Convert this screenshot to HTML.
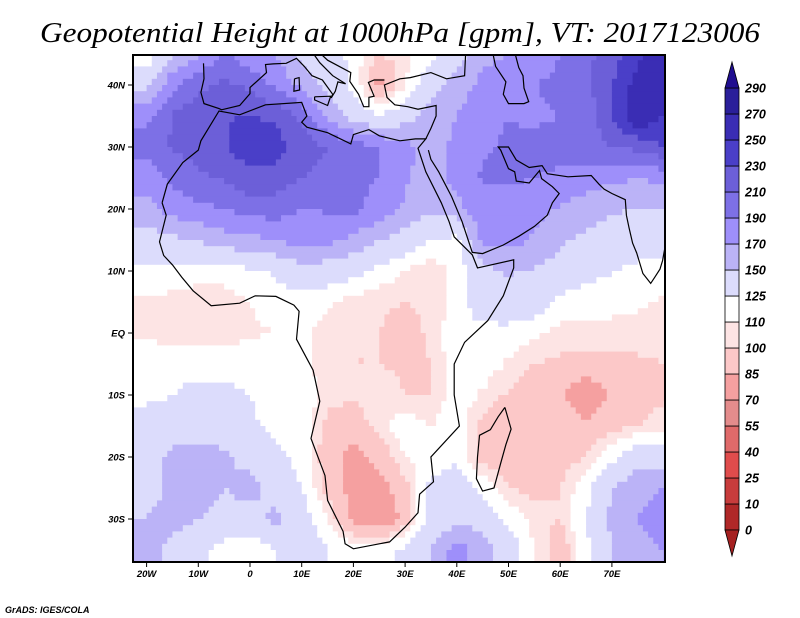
<!DOCTYPE html>
<html><head><meta charset="utf-8"><style>
html,body{margin:0;padding:0;background:#fff;}
svg{display:block;}
</style></head><body>
<svg id="chart" width="800" height="618" xmlns="http://www.w3.org/2000/svg">
<text x="40" y="42" font-family="Liberation Serif, serif" font-style="italic" font-size="28" textLength="720" lengthAdjust="spacingAndGlyphs">Geopotential Height at 1000hPa [gpm], VT: 2017123006</text>
<g id="field"></g>
<g id="coast" fill="none" stroke="#000" stroke-width="1.2"></g>
<rect x="133" y="55" width="532" height="507" fill="none" stroke="#000" stroke-width="2"/>
<g id="axes" font-family="Liberation Sans, sans-serif" font-style="italic" font-weight="bold" font-size="9.5"></g>
<g id="cbar"></g>
<text x="5" y="613" font-family="Liberation Sans, sans-serif" font-style="italic" font-weight="bold" font-size="9">GrADS: IGES/COLA</text>
</svg>
<script>
const levels=[0,10,25,40,55,70,85,100,110,125,150,170,190,210,230,250,270,290];
const colors=['#a52020','#b02828','#c83c3c','#e04c4c','#e06a6a','#e48c8c','#f5a0a0','#fcc8c8','#fde4e4','#ffffff','#dcdcfc','#bbb3f7','#9e8ffa','#7d70e6','#6c5fd8','#4a3fc8','#3a2db4','#2a1f9a','#200e90'];
const lons=[-20,-15,-10,-5,0,5,10,15,20,25,30,35,40,45,50,55,60,65,70,75,80];
const lats=[45,40,35,30,25,20,15,10,5,0,-5,-10,-15,-20,-25,-30,-35];
const r45=[110,150,165,195,175,170,140,140,118,100,105,120,140,165,170,175,190,205,220,245,260];
const r40=[145,185,205,215,205,185,165,140,120,78,110,140,160,175,180,190,195,205,230,260,255];
const r35=[185,212,222,228,232,225,205,165,140,125,140,160,170,185,190,185,190,195,230,270,250];
const r30=[195,212,220,228,242,240,222,210,200,190,178,160,175,188,192,198,200,200,210,215,230];
const r25=[180,195,205,212,225,220,210,200,195,190,172,160,178,192,192,190,185,180,175,170,175];
const r20=[162,178,185,190,198,200,190,192,195,180,168,152,162,185,185,178,168,160,152,150,150];
const r15=[140,145,152,162,165,170,180,175,165,152,140,125,120,178,178,168,152,145,140,140,140];
const r10=[120,120,118,115,122,128,142,138,132,118,110,100,115,142,152,148,142,132,126,118,118];
const r05=[108,105,100,105,110,115,115,112,105,102,100,102,115,140,142,138,120,115,115,112,108];
const r00=[108,105,106,104,108,110,115,104,100,100,95,102,120,118,118,112,105,105,105,105,105];
const s05=[118,115,115,118,120,118,112,105,100,100,98,100,118,118,108,100,98,95,95,98,100];
const s10=[118,125,135,130,125,120,118,105,102,105,100,100,118,108,98,92,88,70,88,95,98];
const s15=[140,140,140,135,128,120,118,95,92,105,118,110,118,95,88,92,92,90,95,100,105];
const s20=[140,155,158,155,140,130,120,90,80,90,110,115,120,95,85,92,95,100,120,140,140];
const s25=[140,155,160,150,160,140,125,95,80,78,95,130,140,120,100,95,100,118,150,165,170];
const s30=[150,160,150,140,140,155,135,110,80,70,90,130,145,140,120,105,100,125,155,170,180];
const s35=[165,140,130,118,110,125,140,125,120,120,130,150,180,160,140,110,90,120,150,165,170];
const grid=[r45,r40,r35,r30,r25,r20,r15,r10,r05,r00,s05,s10,s15,s20,s25,s30,s35];
const xTicks=['20W','10W','0','10E','20E','30E','40E','50E','60E','70E'];
const xTickLon=[-20,-10,0,10,20,30,40,50,60,70];
const yTicks=['40N','30N','20N','10N','EQ','10S','20S','30S'];
const yTickLat=[40,30,20,10,0,-10,-20,-30];
const NS='http://www.w3.org/2000/svg';
const X=lon=>250+5.17*lon, Y=lat=>333-6.2*lat;
function colorOf(v){let i=0;while(i<levels.length&&v>=levels[i])i++;return colors[i];}
function mk(t,a,p){const e=document.createElementNS(NS,t);for(const k in a)e.setAttribute(k,a[k]);p.appendChild(e);return e;}
const svgRoot=document.getElementById('chart');
const field=document.getElementById('field');
const cp=mk('clipPath',{id:'mc'},svgRoot);
mk('rect',{x:133,y:55,width:532,height:507},cp);
field.setAttribute('clip-path','url(#mc)');
function val(lon,lat){
  let fi=(lon-lons[0])/5, fj=(lats[0]-lat)/5;
  fi=Math.max(0,Math.min(lons.length-1.001,fi)); fj=Math.max(0,Math.min(lats.length-1.001,fj));
  const i=Math.floor(fi),j=Math.floor(fj),a=fi-i,b=fj-j;
  return grid[j][i]*(1-a)*(1-b)+grid[j][i+1]*a*(1-b)+grid[j+1][i]*(1-a)*b+grid[j+1][i+1]*a*b;
}
function addRun(run,lat){
  const r=mk('rect',{x:X(run.s),y:Y(lat),width:X(run.e)-X(run.s)+0.6,height:6.8,fill:run.c},field);
  
  
}
for(let lat=46;lat>-38;lat--){
  let run=null;
  for(let lon=-24;lon<=81;lon++){
    const c=colorOf(val(lon+0.5,lat-0.5));
    if(run&&run.c===c){run.e=lon+1;continue;}
    if(run)addRun(run,lat);
    run={s:lon,e:lon+1,c:c};
  }
  addRun(run,lat);
}
const coastLines=[
[[-17,21],[-16,24],[-13,27.5],[-10,29.5],[-9.5,31],[-6,35.8],[-2,35.2],[3,36.8],[10,37.2],[11,35],[10,34],[11,33.2],[15,32.3],[19.5,30.5],[20,32],[23,32.8],[25,31.8],[29,31],[32,31.3],[34,31.3],[32.5,29.8],[34,26],[37,21],[38.5,18],[39.5,15.5],[43,12.6],[44,10.5],[51,11.8],[51,10.5],[49,6],[46,2],[41.5,-1.5],[39.5,-5],[39.5,-10],[40.5,-15],[35,-20],[35.5,-24],[32.8,-26],[32.5,-29],[30,-31.3],[27,-33.7],[25,-34],[20,-34.8],[18.4,-34],[18,-32],[15,-27],[14.5,-23],[11.8,-17],[13.5,-11],[12.2,-6],[9,-1],[9.5,3.5],[8.5,4.5],[5,5.9],[1,6],[-2,4.8],[-7.5,4.4],[-11,6.8],[-13.2,9],[-15,11],[-16.7,12.5],[-17.5,14.7],[-16.2,19],[-17,21]],
[[49.3,-12],[50.5,-15.5],[49.5,-18],[48.5,-21],[47.2,-25],[45,-25.5],[43.8,-23.5],[44,-20],[44.4,-16.5],[46.5,-15.6],[48,-13.5],[49.3,-12]],
[[34,31.3],[35,33],[36,35],[36,36.7],[32.5,36.1],[30.5,36.5],[28,36.8],[26.5,38],[26,40],[29,41],[31,41.2],[35,42],[38,41],[41.5,41.5],[41.7,45]],
[[34.5,29.5],[35,28],[36.5,26],[39,22],[41,18],[43,13],[45,12.8],[49,14.2],[52,15.6],[55,17.2],[57.5,19],[58.5,21],[59.8,22.5],[58.5,23.6],[56.4,24.9],[56,26.2],[54,24.2],[51.5,24.5],[51.2,26],[50,26.5],[48.5,29.5],[48,30],[50,30],[51.5,27.9],[54,26.7],[56.5,27],[57.5,25.7],[61.5,25.2],[66,25.4],[67.5,24],[68.5,23.2],[70,22.5],[72.6,21.5],[72.8,19],[73.3,17],[74,14.5],[74.8,12.9],[76,9.6],[77.5,8],[78.3,9],[79.3,10.3],[79.8,11.7],[80.2,13.5],[80.5,16]],
[[-9,43.5],[-8.9,41],[-9.5,38.8],[-8.9,37],[-6,36.2],[-5.5,36],[-2,36.7],[0,38.6],[0,39.6],[3.2,42],[3,43.3],[4.5,43.4],[7,43.5],[9,44.3],[10.5,43],[12,41.5],[14,40.8],[16,38.5],[15.7,37.9],[16.5,39],[17,40.5],[18.5,40.2],[16,41.5],[13.5,43.6],[12.3,45]],
[[13.6,45.1],[15,44],[19.5,42],[19.3,40.6],[21,38.5],[22,36.5],[23,36.5],[23,38],[24,38.2],[22.9,40.4],[24,40.8],[26,40.8]],
[[47,45],[47.5,43],[49.5,40.5],[49,38.5],[50,37],[53,37],[53.9,37.3],[53,39.5],[52.8,41.5],[52,42.8],[51.3,45]],
[[8.6,41],[9.5,41.2],[9.6,39.2],[8.5,39],[8.6,41]],
[[12.5,38.1],[15.6,38.2],[15,36.7],[12.5,37.6],[12.5,38.1]]
];
const coast=document.getElementById('coast');
coastLines.forEach(l=>{
  const p=mk('polyline',{points:l.map(q=>X(q[0]).toFixed(1)+','+Y(q[1]).toFixed(1)).join(' ')},coast);
  
  
});
const coastClip=mk('clipPath',{id:'mc2'},svgRoot);
mk('rect',{x:133,y:55,width:532,height:507},coastClip);
coast.setAttribute('clip-path','url(#mc2)');
const axes=document.getElementById('axes');
xTicks.forEach((t,i)=>{
  const x=X(xTickLon[i]);
  mk('line',{x1:x,y1:562,x2:x,y2:567,stroke:'#000'},axes);
  const e=mk('text',{x:x,y:577,'text-anchor':'middle'},axes);
  e.textContent=t;
  
  
});
yTicks.forEach((t,i)=>{
  const y=Y(yTickLat[i]);
  mk('line',{x1:128,y1:y,x2:133,y2:y,stroke:'#000'},axes);
  const e=mk('text',{x:125,y:y+3.5,'text-anchor':'end'},axes);
  e.textContent=t;
  
  
});
const cb=document.getElementById('cbar');
const cbTop=88,bh=26,cx=725,cw=14,nb=levels.length-1;
for(let k=0;k<nb;k++){
  const y=cbTop+(nb-1-k)*bh;
  const r=mk('rect',{x:cx,y:y,width:cw,height:bh,fill:colors[k+1],stroke:'#000','stroke-width':0.8},cb);
  
  
}
const tu=mk('polygon',{points:`${cx},${cbTop} ${cx+cw},${cbTop} ${cx+cw/2},${cbTop-26}`,fill:colors[colors.length-1],stroke:'#000','stroke-width':0.8},cb);


const cbBot=cbTop+nb*bh;
const td=mk('polygon',{points:`${cx},${cbBot} ${cx+cw},${cbBot} ${cx+cw/2},${cbBot+26}`,fill:colors[0],stroke:'#000','stroke-width':0.8},cb);


levels.forEach((v,k)=>{
  const y=cbTop+(nb-k)*bh;
  const e=mk('text',{x:745,y:y+4.5,'font-family':'Liberation Sans, sans-serif','font-style':'italic','font-weight':'bold','font-size':'12.5'},cb);
  e.textContent=v;
  
  
});
</script>
</body></html>
